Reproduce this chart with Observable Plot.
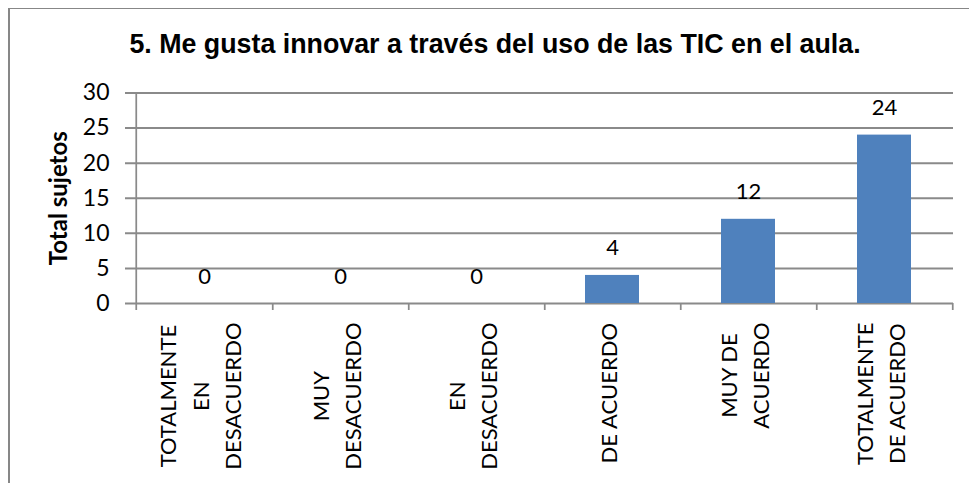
<!DOCTYPE html>
<html>
<head>
<meta charset="utf-8">
<script src="https://cdn.jsdelivr.net/npm/d3@7"></script>
<script src="https://cdn.jsdelivr.net/npm/@observablehq/plot@0.6"></script>
<style>
  html, body { margin: 0; padding: 0; background: #fff; }
  #wrap { position: relative; width: 969px; height: 483px; overflow: hidden; background: #fff; }
  #border { position: absolute; left: 8px; top: 8px; width: 1000px; height: 1000px;
            border-left: 2px solid #878787; border-top: 1px solid #878787; box-sizing: border-box; pointer-events: none; }
  #title { position: absolute; left: 0; width: 990px; top: 31px; text-align: center;
           font: bold 26.8px "Liberation Sans", Arial, sans-serif; line-height: 1; color: #000; white-space: nowrap; }
  #chart { position: absolute; left: 0; top: 0; }
</style>
</head>
<body>
<div id="wrap">
  <div id="chart"></div>
  <div id="border"></div>
  <div id="title"></div>
</div>
<script>
const titleText = "5. Me gusta innovar a través del uso de las TIC en el aula.";
const yLabel = "Total sujetos";
const categories = ["TOTALMENTE\nEN\nDESACUERDO", "MUY\nDESACUERDO", "EN\nDESACUERDO", "DE ACUERDO", "MUY DE\nACUERDO", "TOTALMENTE\nDE ACUERDO"];
const values = [0, 0, 0, 4, 12, 24];
const yTicks = [0, 5, 10, 15, 20, 25, 30];

document.getElementById("title").textContent = titleText;

const W = 969, H = 483;
const mL = 134, mR = 16, mT = 92.5, mB = 180;
const innerW = W - mL - mR, innerH = H - mT - mB;
const step = innerW / categories.length;
const font = "Lato, 'Liberation Sans', sans-serif";
const fs = 22;
const grid = "#8a8a8a";

const data = categories.map((c, i) => ({cat: c, value: values[i]}));

// measure longest line of each label to centre lines like the original
const ctx = document.createElement("canvas").getContext("2d");
ctx.font = `${fs}px Lato`;
const maxLine = categories.map(c => Math.max(...c.split("\n").map(l => ctx.measureText(l).width)));

const labelMarks = categories.map((c, i) => Plot.text([c], {
  x: d => d, frameAnchor: "bottom", rotate: -90, textAnchor: "middle", lineAnchor: "middle",
  lineHeight: 1.48, fontSize: fs, fill: "#000", dx: -6, dy: 19 + maxLine[i] / 2
}));

const chart = Plot.plot({
  width: W, height: H,
  marginLeft: mL, marginRight: mR, marginTop: mT, marginBottom: mB,
  style: {fontFamily: font, background: "transparent"},
  x: {domain: categories, paddingInner: 0.604, paddingOuter: 0.302, axis: null},
  y: {domain: [0, 30], axis: null},
  marks: [
    Plot.ruleY(yTicks, {stroke: grid, strokeWidth: 2, insetLeft: -9}),
    Plot.barY(data, {x: "cat", y: "value", fill: "#4F81BD"}),
    // y-axis line (left category boundary), extends below as a tick
    Plot.ruleX([categories[0]], {x: d => d, dx: -step / 2, stroke: grid, strokeWidth: 1.75, insetBottom: -7}),
    // category boundary ticks
    Plot.ruleX(categories, {x: d => d, dx: step / 2, stroke: grid, strokeWidth: 1.75, insetTop: innerH, insetBottom: -7}),
    Plot.text(yTicks, {y: d => d, frameAnchor: "left", textAnchor: "end", dx: -25, fontSize: 23, fill: "#000"}),
    Plot.text(data, {x: "cat", y: "value", text: d => String(d.value), dy: -27, fontSize: fs, fill: "#000"}),
    Plot.text([yLabel], {frameAnchor: "left", rotate: -90, textAnchor: "middle", dx: -75, fontSize: 24, fontWeight: "bold", fill: "#000"}),
    ...labelMarks
  ]
});
document.getElementById("chart").appendChild(chart);
</script>
</body>
</html>
